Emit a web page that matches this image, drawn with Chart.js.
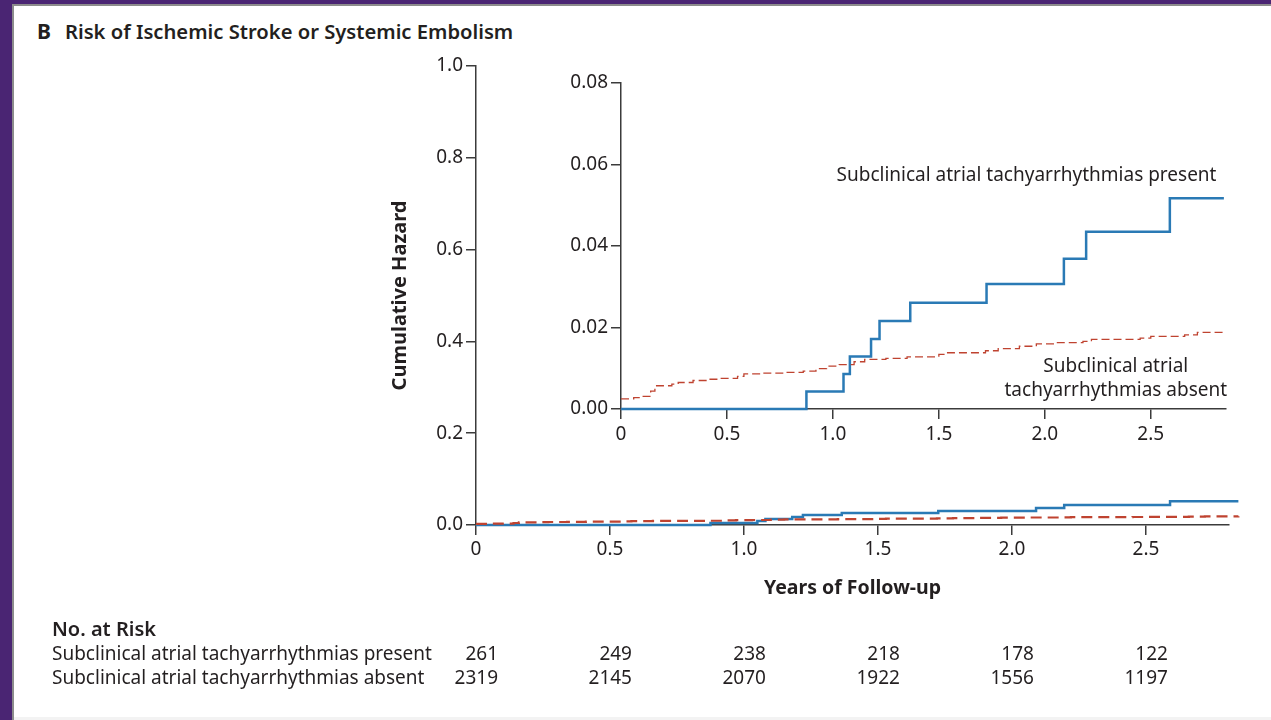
<!DOCTYPE html>
<html>
<head>
<meta charset="utf-8">
<script src="https://cdn.jsdelivr.net/npm/chart.js@4.4.1/dist/chart.umd.min.js"></script>
<style>
html,body{margin:0;padding:0;}
body{width:1271px;height:720px;background:#4a2573;position:relative;overflow:hidden;font-family:"Noto Sans",sans-serif;}
#panel{position:absolute;left:12px;top:4px;width:1259px;height:716px;background:#fff;border-left:2px solid #8c8c8c;border-top:2px solid #8c8c8c;box-sizing:border-box;}
#foot{position:absolute;left:14px;top:717px;width:1257px;height:3px;background:#f3f3f3;}
#main{position:absolute;left:0;top:0;}
#inset{position:absolute;left:540px;top:60px;}
#title{position:absolute;left:37px;top:17px;font-size:20.2px;font-weight:600;color:#231f20;white-space:nowrap;}
#title b{font-weight:700;font-size:21px;margin-right:14px;}
</style>
</head>
<body>
<div id="panel"></div>
<div id="foot"></div>
<div id="title"><b>B</b>Risk of Ischemic Stroke or Systemic Embolism</div>
<canvas id="main" width="1271" height="720"></canvas>
<canvas id="inset" width="731" height="400"></canvas>
<script>
// ---------------- data ----------------
const xTicks = [0, 0.5, 1.0, 1.5, 2.0, 2.5];
const mainYTicks = [0, 0.2, 0.4, 0.6, 0.8, 1.0];
const insetYTicks = [0, 0.02, 0.04, 0.06, 0.08];

const groups = ['Subclinical atrial tachyarrhythmias present', 'Subclinical atrial tachyarrhythmias absent'];

const presentTimes  = [0, 0.875, 1.05, 1.08, 1.18, 1.22, 1.365, 1.725, 2.09, 2.195, 2.59, 2.845];
const presentHazard = [0, 0.0043, 0.0086, 0.0129, 0.0172, 0.0216, 0.0261, 0.0307, 0.0369, 0.0435, 0.0517, 0.0517];

const absentTimes  = [0, 0.06, 0.10, 0.14, 0.16, 0.24, 0.27, 0.34, 0.41, 0.47, 0.55, 0.58, 0.66, 0.78, 0.86, 0.92, 0.97, 1.03, 1.10, 1.15, 1.25, 1.35, 1.50, 1.53, 1.72, 1.78, 1.88, 1.96, 2.05, 2.18, 2.22, 2.45, 2.50, 2.66, 2.72, 2.845];
const absentHazard = [0.0025, 0.0028, 0.0031, 0.0044, 0.0057, 0.0061, 0.0065, 0.0070, 0.0073, 0.0075, 0.0080, 0.0086, 0.0088, 0.0090, 0.0093, 0.0099, 0.0105, 0.0109, 0.0116, 0.0122, 0.0124, 0.0128, 0.0134, 0.0138, 0.0143, 0.0148, 0.0154, 0.0160, 0.0163, 0.0166, 0.0171, 0.0174, 0.0178, 0.0182, 0.0188, 0.0190];

const riskPresent = [261, 249, 238, 218, 178, 122];
const riskAbsent  = [2319, 2145, 2070, 1922, 1556, 1197];

// ---------------- styles ----------------
const INK = '#231f20';
const AXIS = '#3b3b3b';
const BLUE = '#2a7ab5';
const RED = '#bf4330';
const FONT = '"Noto Sans", sans-serif';

const pts = (ts, vs) => ts.map((t, i) => ({x: t, y: vs[i]}));
const xLabel = v => v === 0 ? '0' : v.toFixed(1);

function axisCommon(extra) {
  return Object.assign({
    type: 'linear',
    grid: {drawOnChartArea: false, drawTicks: true, tickLength: 10, tickColor: AXIS, lineWidth: 1.5},
    border: {color: AXIS, width: 1.5},
  }, extra);
}

// No. at Risk table, columns placed by the main x scale
const riskTable = {
  id: 'riskTable',
  afterDraw(chart) {
    const ctx = chart.ctx, xs = chart.scales.x;
    ctx.save();
    ctx.fillStyle = INK;
    ctx.textBaseline = 'middle';
    ctx.textAlign = 'left';
    ctx.font = '600 20px ' + FONT;
    ctx.fillText('No. at Risk', 52, 630);
    ctx.font = '19px ' + FONT;
    [riskPresent, riskAbsent].forEach((row, r) => {
      const y = 655 + r * 24;
      ctx.textAlign = 'left';
      ctx.fillText(groups[r], 52, y);
      ctx.textAlign = 'right';
      row.forEach((n, i) => ctx.fillText(String(n), xs.getPixelForValue(xTicks[i]) + 22, y));
    });
    ctx.restore();
  }
};

// curve labels in the inset
const insetLabels = {
  id: 'insetLabels',
  afterDraw(chart) {
    const ctx = chart.ctx, xs = chart.scales.x, ys = chart.scales.y;
    ctx.save();
    ctx.fillStyle = INK;
    ctx.textBaseline = 'middle';
    ctx.font = '19px ' + FONT;
    ctx.textAlign = 'right';
    ctx.fillText(groups[0], xs.getPixelForValue(2.81), ys.getPixelForValue(0.0572));
    ctx.textAlign = 'center';
    ctx.fillText('Subclinical atrial', xs.getPixelForValue(2.335), ys.getPixelForValue(0.0103));
    ctx.fillText('tachyarrhythmias absent', xs.getPixelForValue(2.335), ys.getPixelForValue(0.0044));
    ctx.restore();
  }
};

// ---------------- main chart ----------------
new Chart(document.getElementById('main'), {
  type: 'line',
  data: {
    datasets: [
      {data: pts(absentTimes, absentHazard), borderColor: RED, borderWidth: 2.2, borderDash: [11, 6], stepped: true, pointRadius: 0, clip: false},
      {data: pts(presentTimes, presentHazard), borderColor: BLUE, borderWidth: 2.5, stepped: true, pointRadius: 0, clip: false}
    ]
  },
  options: {
    responsive: false, animation: false, events: [],
    layout: {padding: {left: 384, top: 66, right: 42, bottom: 120}},
    plugins: {legend: {display: false}, tooltip: {enabled: false}},
    scales: {
      x: axisCommon({
        min: 0, max: 2.81,
        afterBuildTicks: s => { s.ticks = xTicks.map(v => ({value: v})); },
        afterFit: s => { s.height = 75; },
        ticks: {padding: 3, color: INK, font: {family: FONT, size: 19}, callback: xLabel, maxRotation: 0, autoSkip: false},
        title: {display: true, text: 'Years of Follow-up', color: INK, font: {family: FONT, size: 19.5, weight: '700'}, padding: {top: 0, bottom: 0}}
      }),
      y: axisCommon({
        min: 0, max: 1.0,
        afterBuildTicks: s => { s.ticks = mainYTicks.map(v => ({value: v})); },
        afterFit: s => { s.width = 92; },
        ticks: {padding: 3, color: INK, font: {family: FONT, size: 19}, callback: v => v.toFixed(1)},
        title: {display: true, text: 'Cumulative Hazard', color: INK, font: {family: FONT, size: 20, weight: '700'}, padding: {top: 4, bottom: 0}}
      })
    }
  },
  plugins: [riskTable]
});

// ---------------- inset chart ----------------
new Chart(document.getElementById('inset'), {
  type: 'line',
  data: {
    datasets: [
      {data: pts(absentTimes, absentHazard), borderColor: RED, borderWidth: 1.3, borderDash: [8, 4], stepped: true, pointRadius: 0, clip: false},
      {data: pts(presentTimes, presentHazard), borderColor: BLUE, borderWidth: 2.5, stepped: true, pointRadius: 0, clip: false}
    ]
  },
  options: {
    responsive: false, animation: false, events: [],
    layout: {padding: {left: 0, top: 23, right: 45, bottom: 0}},
    plugins: {legend: {display: false}, tooltip: {enabled: false}},
    scales: {
      x: axisCommon({
        min: 0, max: 2.855,
        afterBuildTicks: s => { s.ticks = xTicks.map(v => ({value: v})); },
        afterFit: s => { s.height = 51; },
        ticks: {padding: 4, color: INK, font: {family: FONT, size: 19}, callback: xLabel, maxRotation: 0, autoSkip: false}
      }),
      y: axisCommon({
        min: 0, max: 0.08,
        afterBuildTicks: s => { s.ticks = insetYTicks.map(v => ({value: v})); },
        afterFit: s => { s.width = 81; },
        ticks: {padding: 3, color: INK, font: {family: FONT, size: 19}, callback: v => v.toFixed(2)}
      })
    }
  },
  plugins: [insetLabels]
});
</script>
</body>
</html>
